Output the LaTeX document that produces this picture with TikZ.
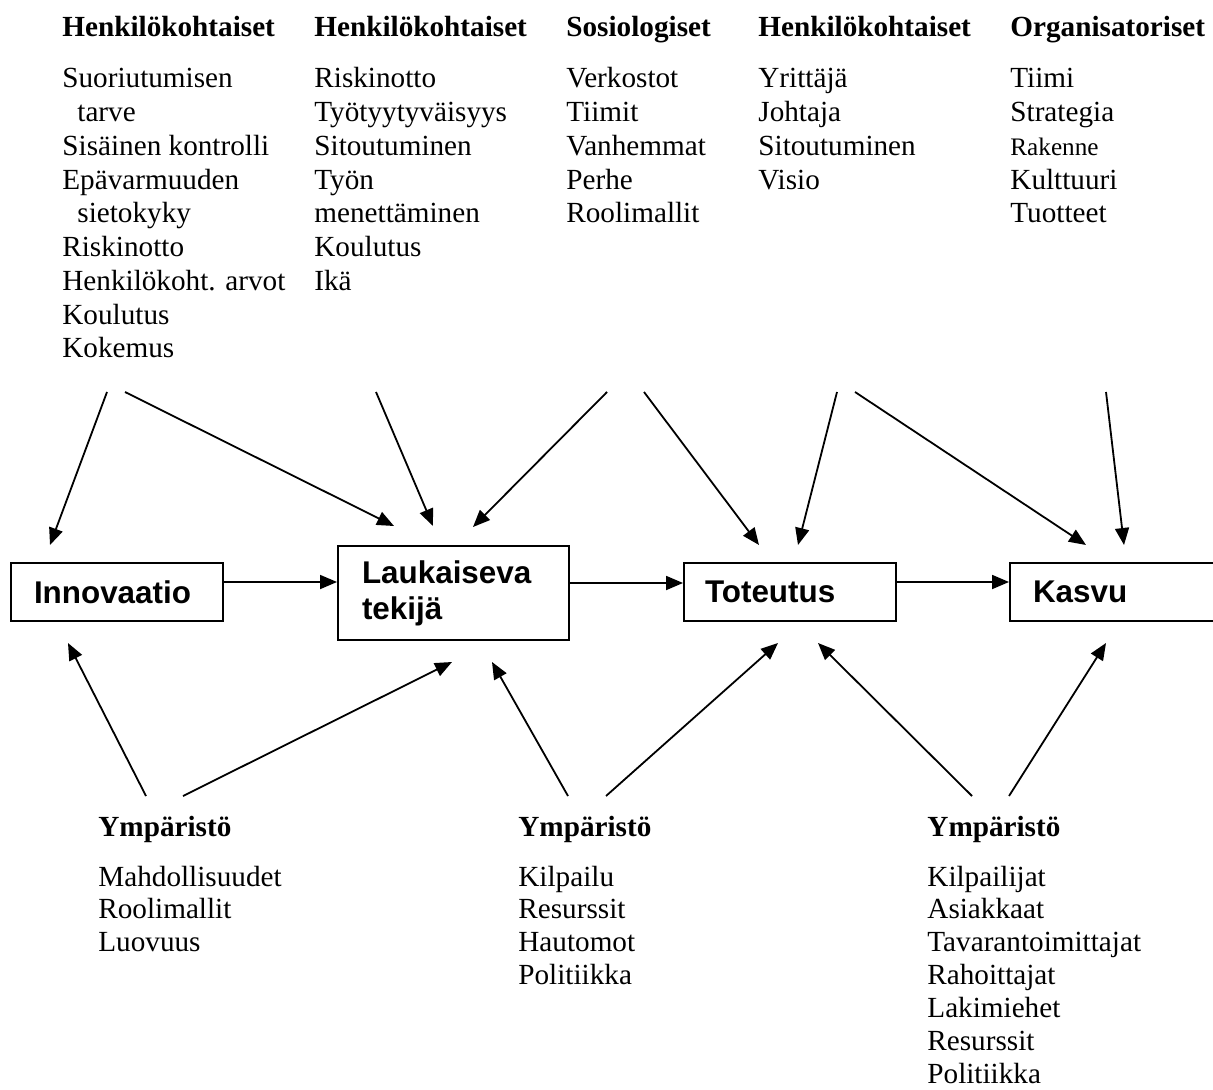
\documentclass[tikz,border=0pt]{standalone}
\usepackage{fontspec}
\setmainfont{Liberation Serif}
\newfontfamily\boxfont{Liberation Sans}
\usetikzlibrary{arrows.meta}
\begin{document}
\begin{tikzpicture}[x=0.5pt,y=-0.5pt,
  txt/.style={anchor=base west, inner sep=0pt, font=\fontsize{14.6}{16.8}\selectfont},
  head/.style={anchor=base west, inner sep=0pt, font=\fontsize{14.6}{16.8}\selectfont\bfseries},
  box/.style={draw, line width=1pt, rectangle, anchor=north west, inner ysep=0pt, align=left,
    font=\boxfont\bfseries\fontsize{15.7}{18}\selectfont},
  arr/.style={-{Triangle[length=8.5pt,width=7pt]}, line width=0.9pt}]
\useasboundingbox (0,0) rectangle (1213,1090);

% ---------- boxes ----------
\node[box, inner xsep=11.5pt, text width=83pt, minimum height=29pt] (inno) at (10,562) {Innovaatio};
\node[box, inner xsep=12pt, text width=91.5pt, minimum height=47pt] (lauk) at (337,545) {Laukaiseva\\tekijä};
\node[box, inner xsep=10.5pt, text width=85pt, minimum height=29pt] (tot) at (683,562) {Toteutus};
\node[box, inner xsep=11.5pt, text width=87pt, minimum height=29pt] (kas) at (1009,562) {Kasvu};

% ---------- top columns ----------
\node[head] (h1) at (62,37) {Henkilökohtaiset};
\foreach \t [count=\i] in {Suoriutumisen,\hspace*{7.5pt}tarve,Sisäinen kontrolli,Epävarmuuden,\hspace*{7.5pt}sietokyky,Riskinotto,Henkilökoht. arvot,Koulutus,Kokemus}
  \node[txt] (a\i) at (62,{88+33.75*(\i-1)}) {\t};

\node[head] (h2) at (314,37) {Henkilökohtaiset};
\foreach \t [count=\i] in {Riskinotto,Työtyytyväisyys,Sitoutuminen,Työn,menettäminen,Koulutus,Ikä}
  \node[txt] (b\i) at (314,{88+33.75*(\i-1)}) {\t};

\node[head] (h3) at (566,37) {Sosiologiset};
\foreach \t [count=\i] in {Verkostot,Tiimit,Vanhemmat,Perhe,Roolimallit}
  \node[txt] (c\i) at (566,{88+33.75*(\i-1)}) {\t};

\node[head] (h4) at (758,37) {Henkilökohtaiset};
\foreach \t [count=\i] in {Yrittäjä,Johtaja,Sitoutuminen,Visio}
  \node[txt] (d\i) at (758,{88+33.75*(\i-1)}) {\t};

\node[head] (h5) at (1010,37) {Organisatoriset};
\node[txt] (e1) at (1010,88) {Tiimi};
\node[txt] (e2) at (1010,121.75) {Strategia};
\node[txt, font=\fontsize{12.6}{14.5}\selectfont] (e3) at (1010,155.5) {Rakenne};
\node[txt] (e4) at (1010,189.25) {Kulttuuri};
\node[txt] (e5) at (1010,223) {Tuotteet};

% ---------- bottom columns ----------
\node[head] (y1) at (98,836) {Ympäristö};
\foreach \t [count=\i] in {Mahdollisuudet,Roolimallit,Luovuus}
  \node[txt] (f\i) at (98,{886+32.9*(\i-1)}) {\t};

\node[head] (y2) at (518,836) {Ympäristö};
\foreach \t [count=\i] in {Kilpailu,Resurssit,Hautomot,Politiikka}
  \node[txt] (g\i) at (518,{886+32.9*(\i-1)}) {\t};

\node[head] (y3) at (927,836) {Ympäristö};
\foreach \t [count=\i] in {Kilpailijat,Asiakkaat,Tavarantoimittajat,Rahoittajat,Lakimiehet,Resurssit,Politiikka}
  \node[txt, text depth=0pt] (k\i) at (927,{886+32.9*(\i-1)}) {\t};

% ---------- arrow end points ----------
\coordinate (t1s) at (107,392);  \coordinate (t1e) at (50,545);
\coordinate (t2s) at (125,392);  \coordinate (t2e) at (394,526);
\coordinate (t3s) at (376,392);  \coordinate (t3e) at (433,526);
\coordinate (t4s) at (607,392);  \coordinate (t4e) at (473,527);
\coordinate (t5s) at (644,392);  \coordinate (t5e) at (759,545);
\coordinate (t6s) at (837,392);  \coordinate (t6e) at (798,545);
\coordinate (t7s) at (855,392);  \coordinate (t7e) at (1086,545);
\coordinate (t8s) at (1106,392); \coordinate (t8e) at (1124,545);

\coordinate (b1s) at (146,796);  \coordinate (b1e) at (68,643);
\coordinate (b2s) at (183,796);  \coordinate (b2e) at (452,662);
\coordinate (b3s) at (568,796);  \coordinate (b3e) at (492,662);
\coordinate (b4s) at (606,796);  \coordinate (b4e) at (778,643);
\coordinate (b5s) at (972,796);  \coordinate (b5e) at (818,643);
\coordinate (b6s) at (1009,796); \coordinate (b6e) at (1106,643);

\foreach \n in {t1,t2,t3,t4,t5,t6,t7,t8,b1,b2,b3,b4,b5,b6}
  \draw[arr] (\n s) -- (\n e);

% ---------- horizontal flow ----------
\draw[arr] (inno.east |- 0,582) -- (lauk.west |- 0,582);
\draw[arr] (lauk.east |- 0,583) -- (tot.west |- 0,583);
\draw[arr] (tot.east |- 0,582) -- (kas.west |- 0,582);
\end{tikzpicture}
\end{document}
